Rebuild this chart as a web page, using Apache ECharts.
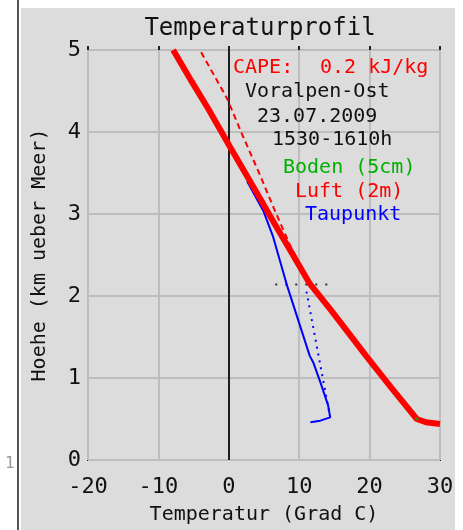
<!DOCTYPE html>
<html>
<head>
<meta charset="utf-8">
<script src="https://cdn.jsdelivr.net/npm/echarts@6/dist/echarts.min.js"></script>
<style>html,body{margin:0;padding:0;background:#fff}#c{width:463px;height:530px}</style>
</head>
<body>
<div id="c"></div>
<script>
// Tick labels / axes
const xTicks = [-20, -10, 0, 10, 20, 30];
const yTicks = [0, 1, 2, 3, 4, 5];
// Air temperature profile (Luft) [Temp °C, height km]
const luft = [[30.0,0.44],[28.0,0.46],[26.7,0.50],[23.1,0.88],[19.5,1.27],[17.0,1.55],[14.4,1.84],[11.5,2.15],[8.7,2.56],[6.5,2.88],[3.7,3.30],[0.1,3.83],[-2.9,4.28],[-5.3,4.62],[-7.9,5.0]];
// Parcel moist adiabat (CAPE)
const parcel = [[11.5,2.15],[8.7,2.62],[6.8,2.99],[4.4,3.48],[1.9,3.97],[-0.2,4.4],[-4.1,5.0]];
// Dew point (Taupunkt)
const taupunkt = [[11.6,0.46],[13.0,0.48],[14.4,0.52],[14.1,0.67],[13.0,0.95],[12.0,1.19],[11.5,1.27],[8.3,2.12],[6.3,2.72],[4.9,3.04],[2.6,3.40]];
// Mixing-ratio line from surface dew point
const mixing = [[14.4,0.52],[11.0,2.07]];
// Condensation level marker
const lcl = [[6.6,2.14],[15.1,2.14]];
// Ground temperature (Boden)
const boden = [[26.7,0.50]];
// Info text
const infoLines = ["Voralpen-Ost","23.07.2009","1530-1610h"];
const legendLabels = ["Boden (5cm)","Luft (2m)","Taupunkt"];
const capeLabel = "CAPE:";
const capeValue = "0.2 kJ/kg";

const MONO = '"DejaVu Sans Mono", monospace';
const chart = echarts.init(document.getElementById('c'));
function txt(text, x, y, color, size, align) {
  return {type:'text', x:x, y:y, z:100, style:{text:text, fill:color, font:size+'px '+MONO, textAlign:align||'left', textVerticalAlign:'middle', align:align||'left', verticalAlign:'middle'}};
}
chart.setOption({
  backgroundColor: '#dcdcdc',
  animation: false,
  grid: {left:88, right:23, top:50, bottom:64, show:true, borderColor:'#1e1e1e', borderWidth:2, backgroundColor:'transparent'},
  xAxis: [{
    type:'value', min:-20, max:30, interval:10, position:'bottom',
    name:'Temperatur (Grad C)', nameLocation:'middle', nameGap:45,
    nameTextStyle:{fontFamily:MONO, fontSize:20, color:'#111'},
    axisLine:{show:false}, axisTick:{show:false},
    axisLabel:{fontFamily:MONO, fontSize:22, color:'#111', margin:16, formatter:v=>String(v)},
    splitLine:{show:true, lineStyle:{color:'#bdbdbd', width:2}}
  },{
    type:'value', min:-20, max:30, interval:10, position:'top',
    axisLine:{show:false}, axisLabel:{show:false}, splitLine:{show:false},
    axisTick:{show:true, length:4, lineStyle:{color:'#222', width:2}}
  }],
  yAxis: {
    type:'value', min:0, max:5, interval:1,
    name:'Hoehe (km ueber Meer)', nameLocation:'middle', nameGap:38, nameRotate:90,
    nameTextStyle:{fontFamily:MONO, fontSize:20, color:'#111'},
    axisLine:{show:false}, axisTick:{show:false},
    axisLabel:{fontFamily:MONO, fontSize:22, color:'#111', margin:7},
    splitLine:{show:true, lineStyle:{color:'#bdbdbd', width:2}}
  },
  series: [
    {type:'line', data:lcl, symbol:'none', lineStyle:{color:'#333', width:2, type:[2,8]}, z:3,
     markLine:{silent:true, symbol:'none', label:{show:false}, lineStyle:{color:'#1e1e1e', width:2, type:'solid'}, data:[{xAxis:0}]}},
    {type:'line', data:mixing, symbol:'none', lineStyle:{color:'#0000ff', width:2, type:[2,5]}, z:4},
    {type:'line', data:taupunkt, symbol:'none', lineStyle:{color:'#0000ff', width:2}, z:5},
    {type:'line', data:parcel, symbol:'none', lineStyle:{color:'#ff0000', width:2, type:[6,4]}, z:6},
    {type:'line', data:luft, symbol:'none', lineStyle:{color:'#ff0000', width:6}, z:7},
    {type:'scatter', data:boden, symbol:'rect', symbolSize:3, itemStyle:{color:'#00b000'}, z:8}
  ],
  graphic: [
    {type:'rect', shape:{x:0,y:0,width:21,height:530}, style:{fill:'#ffffff'}, z:50},
    {type:'rect', shape:{x:0,y:0,width:463,height:8}, style:{fill:'#ffffff'}, z:50},
    {type:'rect', shape:{x:455,y:0,width:8,height:530}, style:{fill:'#ffffff'}, z:50},
    {type:'rect', shape:{x:17,y:0,width:2,height:530}, style:{fill:'#555555'}, z:51},
    txt('1', 5, 464, '#999999', 16),
    txt('Temperaturprofil', 260, 29, '#111', 24, 'center'),
    txt(capeLabel, 233, 68, '#ff0000', 20),
    txt(capeValue, 320, 68, '#ff0000', 20),
    txt(infoLines[0], 245, 92, '#111', 20),
    txt(infoLines[1], 257, 117, '#111', 20),
    txt(infoLines[2], 272, 140, '#111', 20),
    txt(legendLabels[0], 283, 168, '#00b000', 20),
    txt(legendLabels[1], 295, 192, '#ff0000', 20),
    txt(legendLabels[2], 305, 215, '#0000ff', 20)
  ]
});
</script>
</body>
</html>
